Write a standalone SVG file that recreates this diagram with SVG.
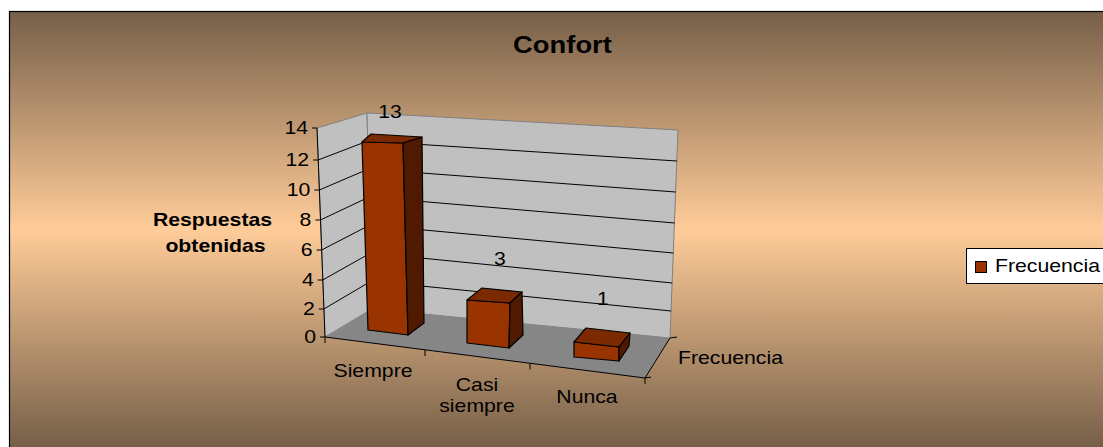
<svg xmlns="http://www.w3.org/2000/svg" width="1103" height="447" viewBox="0 0 1103 447">
<defs>
<linearGradient id="bg" x1="0" y1="11" x2="0" y2="447" gradientUnits="userSpaceOnUse">
<stop offset="0" stop-color="#765F48"/>
<stop offset="0.5" stop-color="#FFCC99"/>
<stop offset="1" stop-color="#765F48"/>
</linearGradient>
<style>
.t{font-family:"Liberation Sans",Arial,sans-serif;font-size:18px;fill:#000}
.b{font-weight:bold}
.wall{fill:#C0C0C0;stroke:#808080;stroke-width:1}
.floor{fill:#868686;stroke:none}
.grid{stroke:#000;stroke-width:1;fill:none}
.ax{stroke:#000;stroke-width:1;fill:none}
.bar{stroke:#000;stroke-width:1.2;stroke-linejoin:round}
.front{fill:#993300}
.top{fill:#7A2900}
.side{fill:#4F1A00}
</style>
</defs>
<g id="background">
<rect x="9.5" y="11.5" width="1100" height="440" fill="url(#bg)" stroke="#000" stroke-width="1.2"/>
</g>
<g id="title"><text class="t b" style="font-size:23px" text-anchor="middle" transform="translate(562.5,53) scale(1.19,1)">Confort</text></g>
<g id="walls">
<polygon class="wall" points="317,128 367,113 372,309 325,337"/>
<polygon class="wall" points="367,113 678,130 670,338 372,309"/>
<polygon class="floor" points="325,337 372,309 670,338 645,378"/>
</g>
<g id="gridlines">
<polyline class="grid" points="323.9,309 371.3,281 671.1,311"/>
<polyline class="grid" points="322.7,280 370.6,253 672.3,283"/>
<polyline class="grid" points="321.6,250 369.9,225 673.4,253"/>
<polyline class="grid" points="320.4,220 369.1,197 674.6,223"/>
<polyline class="grid" points="319.3,190 368.4,169 675.7,192"/>
<polyline class="grid" points="318.1,160 367.7,141 676.9,161"/>
</g>
<g id="axes">
<line class="ax" x1="317" y1="128" x2="325" y2="337"/>
<line class="ax" x1="312" y1="128" x2="317" y2="128"/>
<line class="ax" x1="313.1" y1="160" x2="318.1" y2="160"/>
<line class="ax" x1="314.3" y1="190" x2="319.3" y2="190"/>
<line class="ax" x1="315.4" y1="220" x2="320.4" y2="220"/>
<line class="ax" x1="316.6" y1="250" x2="321.6" y2="250"/>
<line class="ax" x1="317.7" y1="280" x2="322.7" y2="280"/>
<line class="ax" x1="318.9" y1="309" x2="323.9" y2="309"/>
<line class="ax" x1="320" y1="337" x2="325" y2="337"/>
<line class="ax" x1="325" y1="337" x2="645" y2="378"/>
<line class="ax" x1="325" y1="337" x2="325" y2="343"/>
<line class="ax" x1="425" y1="350" x2="425" y2="356"/>
<line class="ax" x1="530" y1="363.5" x2="530" y2="369.5"/>
<line class="ax" x1="645" y1="378" x2="645" y2="384"/>
<line class="ax" x1="645" y1="378" x2="670" y2="338"/>
<line class="ax" x1="645" y1="378" x2="651" y2="377"/>
<line class="ax" x1="670" y1="338" x2="677" y2="337"/>
</g>
<g id="axis-labels">
<text class="t" text-anchor="end" transform="translate(308,134) scale(1.18,1)">14</text>
<text class="t" text-anchor="end" transform="translate(309.1,166) scale(1.18,1)">12</text>
<text class="t" text-anchor="end" transform="translate(310.3,196) scale(1.18,1)">10</text>
<text class="t" text-anchor="end" transform="translate(311.4,226) scale(1.18,1)">8</text>
<text class="t" text-anchor="end" transform="translate(312.6,256) scale(1.18,1)">6</text>
<text class="t" text-anchor="end" transform="translate(313.7,286) scale(1.18,1)">4</text>
<text class="t" text-anchor="end" transform="translate(314.9,315) scale(1.18,1)">2</text>
<text class="t" text-anchor="end" transform="translate(316,343) scale(1.18,1)">0</text>
<text class="t" text-anchor="middle" transform="translate(373,377) scale(1.18,1)">Siempre</text>
<text class="t" text-anchor="middle" transform="translate(477,391) scale(1.18,1)">Casi</text>
<text class="t" text-anchor="middle" transform="translate(477,412) scale(1.18,1)">siempre</text>
<text class="t" text-anchor="middle" transform="translate(587,403) scale(1.18,1)">Nunca</text>
<text class="t" transform="translate(678,364) scale(1.18,1)">Frecuencia</text>
<text class="t b" text-anchor="middle" transform="translate(212.5,226) scale(1.18,1)">Respuestas</text>
<text class="t b" text-anchor="middle" transform="translate(215.5,252) scale(1.18,1)">obtenidas</text>
</g>
<g id="bar-siempre">
<polygon class="bar front" points="362,142 403,143 408,335 368,330"/>
<polygon class="bar top" points="362,142 371,134 422,137 403,143"/>
<polygon class="bar side" points="403,143 422,137 424,323 408,335"/>
<text class="t" text-anchor="middle" transform="translate(390,118) scale(1.18,1)">13</text>
</g>
<g id="bar-casi-siempre">
<polygon class="bar front" points="467,300 510,303 509,348 467,343"/>
<polygon class="bar top" points="467,300 482,288 522,292 510,303"/>
<polygon class="bar side" points="510,303 522,292 523,335 509,348"/>
<text class="t" text-anchor="middle" transform="translate(500,265) scale(1.18,1)">3</text>
</g>
<g id="bar-nunca">
<polygon class="bar front" points="574,342 619,347 619,361 574,357"/>
<polygon class="bar top" points="574,342 586,328 630,333 619,347"/>
<polygon class="bar side" points="619,347 630,333 629,346 619,361"/>
<text class="t" text-anchor="middle" transform="translate(603,305) scale(1.18,1)">1</text>
</g>
<g id="legend">
<rect x="966.5" y="248.5" width="150" height="35" fill="#fff" stroke="#000" stroke-width="1"/>
<rect x="975.5" y="261.5" width="11" height="11" fill="#993300" stroke="#000" stroke-width="1"/>
<text class="t" transform="translate(995,272) scale(1.18,1)">Frecuencia</text>
</g>
</svg>
